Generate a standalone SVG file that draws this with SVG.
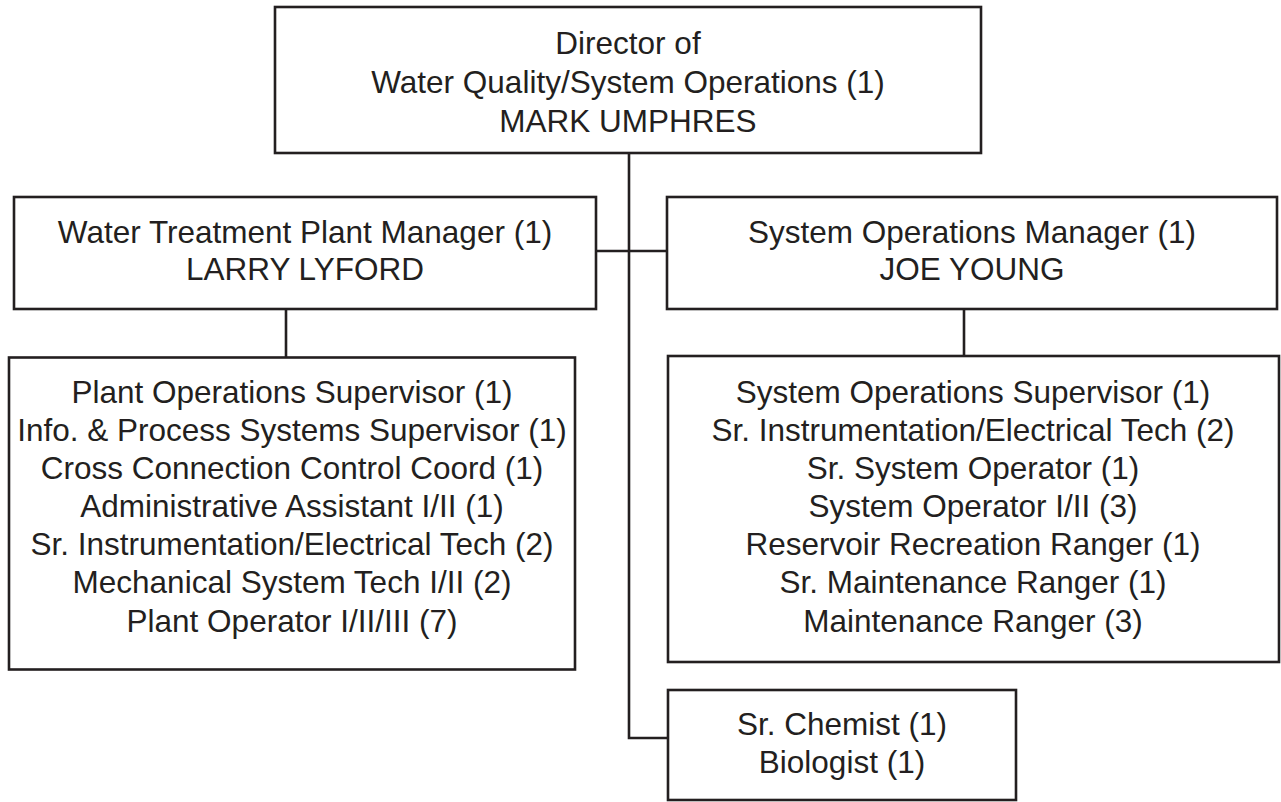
<svg xmlns="http://www.w3.org/2000/svg" width="1281" height="802" viewBox="0 0 1281 802">
  <style>
    .box { fill: #ffffff; stroke: #231f20; stroke-width: 2.6; }
    .link { fill: none; stroke: #231f20; stroke-width: 2.6; }
    text { font-family: "Liberation Sans", Arial, Helvetica, sans-serif; font-size: 31.5px; fill: #231f20; text-anchor: middle; }
  </style>
  <rect width="1281" height="802" fill="#ffffff"/>

  <!-- reporting lines -->
  <g id="connectors">
    <path class="link" d="M629,153 V738 H668"/>
    <path class="link" d="M596,251 H667"/>
    <path class="link" d="M286,309 V357"/>
    <path class="link" d="M964,309 V356"/>
  </g>

  <g id="director">
    <rect class="box" x="275" y="7" width="706" height="146"/>
    <text x="628" y="54">Director of</text>
    <text x="628" y="93">Water Quality/System Operations (1)</text>
    <text x="628" y="132">MARK UMPHRES</text>
  </g>

  <g id="plant-manager">
    <rect class="box" x="14" y="197" width="582" height="112"/>
    <text x="305" y="243">Water Treatment Plant Manager (1)</text>
    <text x="305" y="280">LARRY LYFORD</text>
  </g>

  <g id="sysops-manager">
    <rect class="box" x="667" y="197" width="610" height="112"/>
    <text x="972" y="243">System Operations Manager (1)</text>
    <text x="972" y="280">JOE YOUNG</text>
  </g>

  <g id="plant-staff">
    <rect class="box" x="9" y="357.5" width="566" height="312"/>
    <text x="292" y="403">Plant Operations Supervisor (1)</text>
    <text x="292" y="441">Info. &amp; Process Systems Supervisor (1)</text>
    <text x="292" y="479">Cross Connection Control Coord (1)</text>
    <text x="292" y="517">Administrative Assistant I/II (1)</text>
    <text x="292" y="555">Sr. Instrumentation/Electrical Tech (2)</text>
    <text x="292" y="593">Mechanical System Tech I/II (2)</text>
    <text x="292" y="632">Plant Operator I/II/III (7)</text>
  </g>

  <g id="sysops-staff">
    <rect class="box" x="668" y="356" width="611" height="306"/>
    <text x="973" y="403">System Operations Supervisor (1)</text>
    <text x="973" y="441">Sr. Instrumentation/Electrical Tech (2)</text>
    <text x="973" y="479">Sr. System Operator (1)</text>
    <text x="973" y="517">System Operator I/II (3)</text>
    <text x="973" y="555">Reservoir Recreation Ranger (1)</text>
    <text x="973" y="593">Sr. Maintenance Ranger (1)</text>
    <text x="973" y="632">Maintenance Ranger (3)</text>
  </g>

  <g id="lab-staff">
    <rect class="box" x="668" y="690" width="348" height="110"/>
    <text x="842" y="735">Sr. Chemist (1)</text>
    <text x="842" y="773">Biologist (1)</text>
  </g>
</svg>
